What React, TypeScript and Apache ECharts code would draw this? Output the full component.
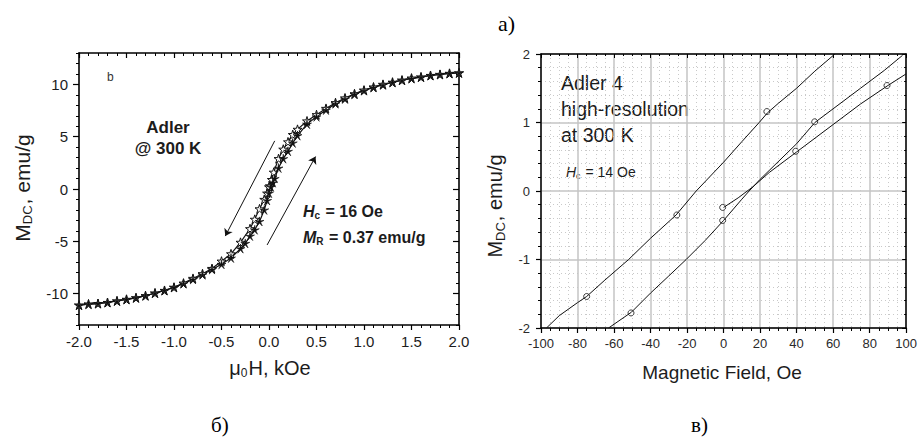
import React, { useEffect, useRef } from "react";
import * as echarts from "echarts";

// ---------- Left panel (б): hysteresis loop ----------
const fieldDown = [2.0, 1.9, 1.8, 1.7, 1.6, 1.5, 1.4, 1.3, 1.2, 1.1, 1.0, 0.9, 0.8, 0.7, 0.6, 0.5, 0.4, 0.3, 0.25, 0.2, 0.15, 0.1, 0.05, 0.03, 0.01, 0.0, -0.02, -0.05, -0.1, -0.15, -0.2, -0.3, -0.4, -0.5, -0.6, -0.7, -0.8, -0.9, -1.0, -1.1, -1.2, -1.3, -1.4, -1.5, -1.6, -1.7, -1.8, -1.9, -2.0];
const magDown = [11.1, 11.05, 10.95, 10.85, 10.7, 10.6, 10.4, 10.2, 10.0, 9.75, 9.45, 9.1, 8.7, 8.25, 7.7, 7.1, 6.5, 5.7, 5.2, 4.5, 3.8, 2.9, 1.6, 0.9, 0.3, 0.2, -0.4, -1.0, -1.9, -2.9, -3.8, -5.1, -6.2, -6.9, -7.6, -8.1, -8.55, -9.0, -9.4, -9.7, -9.95, -10.2, -10.4, -10.55, -10.7, -10.85, -10.95, -11.0, -11.1];
const fieldUp = [-2.0, -1.9, -1.8, -1.7, -1.6, -1.5, -1.4, -1.3, -1.2, -1.1, -1.0, -0.9, -0.8, -0.7, -0.6, -0.5, -0.4, -0.3, -0.25, -0.2, -0.15, -0.1, -0.05, -0.02, 0.0, 0.02, 0.04, 0.06, 0.1, 0.15, 0.2, 0.25, 0.3, 0.4, 0.5, 0.6, 0.7, 0.8, 0.9, 1.0, 1.1, 1.2, 1.3, 1.4, 1.5, 1.6, 1.7, 1.8, 1.9, 2.0];
const magUp = [-11.1, -11.0, -10.95, -10.85, -10.7, -10.55, -10.4, -10.2, -9.95, -9.7, -9.4, -9.05, -8.65, -8.2, -7.7, -7.2, -6.6, -5.7, -5.2, -4.5, -3.9, -3.1, -2.0, -1.1, -0.4, 0.2, 0.6, 1.0, 2.0, 2.9, 3.6, 4.4, 5.1, 6.2, 6.9, 7.55, 8.15, 8.6, 9.05, 9.4, 9.7, 9.95, 10.2, 10.4, 10.55, 10.7, 10.85, 10.95, 11.05, 11.1];
const leftMajorY = [-10, -5, 0, 5, 10];
// arrows: [startField, startMag, endField, endMag]
const arrowDown = [0.06, 4.6, -0.46, -4.5];
const arrowUp = [-0.02, -5.35, 0.49, 3.1];

// ---------- Right panel (в): high-resolution loop ----------
const line1Field = [-97, -90, -80, -75, -65, -52, -40, -26, -15, 0, 10, 19.5, 24, 30, 40, 50, 61];
const line1Mag = [-2.0, -1.82, -1.63, -1.54, -1.3, -1.0, -0.69, -0.35, 0, 0.42, 0.72, 1.0, 1.14, 1.28, 1.5, 1.75, 2.0];
const line2Field = [-63, -50.5, -40, -30, -20.5, -10, 0, 10, 14, 20, 25, 40, 50, 60, 75, 88, 98];
const line2Mag = [-2.0, -1.77, -1.49, -1.24, -1.0, -0.72, -0.43, -0.12, 0, 0.17, 0.3, 0.69, 1.0, 1.2, 1.5, 1.76, 1.98];
const line3Field = [0, 8, 16, 25, 40, 60, 75, 90, 100];
const line3Mag = [-0.24, -0.1, 0.06, 0.27, 0.57, 0.97, 1.27, 1.54, 1.71];
const circleField = [-75, -25.6, 23.7, -50.7, -0.5, 49.9, -0.5, 39.5, 89.5];
const circleMag = [-1.54, -0.35, 1.16, -1.78, -0.43, 1.01, -0.24, 0.58, 1.54];

const zip = (a: number[], b: number[]) => a.map((v, i) => [v, b[i]]);

const STAR_OPEN =
  "path://M0,-10L2.245,-3.09L9.51,-3.09L3.633,1.18L5.88,8.09L0,3.82L-5.88,8.09L-3.633,1.18L-9.51,-3.09L-2.245,-3.09Z";
const STAR_THIN =
  "path://M0,-10L1.47,-2.02L9.51,-3.09L2.38,0.77L5.88,8.09L0,2.5L-5.88,8.09L-2.38,0.77L-9.51,-3.09L-1.47,-2.02Z";

const SANS = "'Liberation Sans', Arial, sans-serif";
const SERIF = "'Liberation Serif', 'Times New Roman', serif";
const INK = "#1c1c1c";

export default function App() {
  const ref = useRef<HTMLDivElement>(null);

  useEffect(() => {
    if (!ref.current) return;
    const chart = echarts.init(ref.current, undefined, { renderer: "svg" });

    const border = { show: true, onZero: false, lineStyle: { color: "#000", width: 1.6 } };
    const noLine = { show: false, onZero: false };
    const dotted = { show: true, lineStyle: { color: "#c9c9c9", width: 1, type: [1, 3] } };

    const option: any = {
      animation: false,
      backgroundColor: "#fff",
      grid: [
        { left: 79, top: 53, width: 380, height: 272, containLabel: false },
        { left: 541, top: 54, width: 367, height: 274, containLabel: false },
      ],
      xAxis: [
        {
          gridIndex: 0, type: "value", position: "bottom", min: -2, max: 2, interval: 0.5,
          axisLine: border,
          axisTick: { show: true, inside: false, length: 5, lineStyle: { color: "#000", width: 1.2 } },
          minorTick: { show: true, splitNumber: 5, length: 3, lineStyle: { color: "#000", width: 1 } },
          axisLabel: { fontSize: 15, color: INK, fontFamily: SANS, margin: 9, formatter: (v: number) => v.toFixed(1) },
          splitLine: { show: false },
        },
        {
          gridIndex: 0, type: "value", position: "top", min: -2, max: 2, interval: 0.5,
          axisLine: border,
          axisTick: { show: true, inside: true, length: 5, lineStyle: { color: "#000", width: 1.2 } },
          minorTick: { show: true, splitNumber: 5, length: 3, lineStyle: { color: "#000", width: 1 } },
          axisLabel: { show: false },
          splitLine: { show: false },
        },
        {
          gridIndex: 1, type: "value", position: "bottom", min: -100, max: 100, interval: 20,
          axisLine: { show: true, onZero: false, lineStyle: { color: "#000", width: 1.5 } },
          axisTick: { show: true, inside: false, length: 5, lineStyle: { color: "#000", width: 1.2 } },
          minorTick: { show: true, splitNumber: 4, length: 3, lineStyle: { color: "#000", width: 1 } },
          axisLabel: { fontSize: 13, color: "#2a2a2a", fontFamily: SANS, margin: 9 },
          splitLine: { show: true, lineStyle: { color: "#c4c4c4", width: 1.5 } },
          minorSplitLine: dotted,
        },
        {
          gridIndex: 1, type: "value", position: "top", min: -100, max: 100, interval: 20,
          axisLine: { show: true, onZero: false, lineStyle: { color: "#000", width: 1.5 } },
          axisTick: { show: true, inside: true, length: 4, lineStyle: { color: "#000", width: 1 } },
          minorTick: { show: true, splitNumber: 4, length: 2, lineStyle: { color: "#000", width: 1 } },
          axisLabel: { show: false },
          splitLine: { show: false },
        },
      ],
      yAxis: [
        {
          gridIndex: 0, type: "value", position: "left", min: -13, max: 13, interval: 1,
          axisLine: border,
          axisTick: { show: true, inside: false, length: 3, lineStyle: { color: "#000", width: 1 } },
          axisLabel: {
            fontSize: 15, color: INK, fontFamily: SANS, margin: 11,
            formatter: (v: number) => (leftMajorY.indexOf(v) >= 0 ? String(v) : ""),
          },
          splitLine: { show: false },
        },
        {
          gridIndex: 0, type: "value", position: "left", min: -13, max: 13,
          axisLine: noLine,
          axisTick: { show: true, inside: false, length: 6, customValues: leftMajorY, lineStyle: { color: "#000", width: 1.2 } },
          axisLabel: { show: false },
          splitLine: { show: false },
        },
        {
          gridIndex: 0, type: "value", position: "right", min: -13, max: 13, interval: 1,
          axisLine: border,
          axisTick: { show: true, inside: true, length: 3, lineStyle: { color: "#000", width: 1 } },
          axisLabel: { show: false },
          splitLine: { show: false },
        },
        {
          gridIndex: 0, type: "value", position: "right", min: -13, max: 13,
          axisLine: noLine,
          axisTick: { show: true, inside: true, length: 6, customValues: leftMajorY, lineStyle: { color: "#000", width: 1.2 } },
          axisLabel: { show: false },
          splitLine: { show: false },
        },
        {
          gridIndex: 1, type: "value", position: "left", min: -2, max: 2, interval: 1,
          axisLine: { show: true, onZero: false, lineStyle: { color: "#000", width: 1.5 } },
          axisTick: { show: true, inside: false, length: 5, lineStyle: { color: "#000", width: 1.2 } },
          minorTick: { show: true, splitNumber: 5, length: 3, lineStyle: { color: "#000", width: 1 } },
          axisLabel: { fontSize: 13, color: "#2a2a2a", fontFamily: SANS, margin: 11 },
          splitLine: { show: true, lineStyle: { color: "#c4c4c4", width: 1.5 } },
          minorSplitLine: dotted,
        },
        {
          gridIndex: 1, type: "value", position: "right", min: -2, max: 2, interval: 1,
          axisLine: { show: true, onZero: false, lineStyle: { color: "#000", width: 1.5 } },
          axisTick: { show: true, inside: true, length: 4, lineStyle: { color: "#000", width: 1 } },
          minorTick: { show: true, splitNumber: 5, length: 2, lineStyle: { color: "#000", width: 1 } },
          axisLabel: { show: false },
          splitLine: { show: false },
        },
      ],
      series: [
        {
          type: "line", xAxisIndex: 0, yAxisIndex: 0, silent: true,
          data: zip(fieldDown, magDown),
          symbol: STAR_OPEN, symbolSize: 9,
          itemStyle: { color: "#fff", borderColor: "#111", borderWidth: 1 },
          lineStyle: { color: "#111", width: 1.2 },
          markLine: {
            silent: true, symbol: ["none", "arrow"], symbolSize: 7, animation: false,
            label: { show: false },
            lineStyle: { color: "#111", width: 1, type: "solid" },
            data: [
              [{ coord: [arrowDown[0], arrowDown[1]] }, { coord: [arrowDown[2], arrowDown[3]] }],
              [{ coord: [arrowUp[0], arrowUp[1]] }, { coord: [arrowUp[2], arrowUp[3]] }],
            ],
          },
        },
        {
          type: "line", xAxisIndex: 0, yAxisIndex: 0, silent: true,
          data: zip(fieldUp, magUp),
          symbol: STAR_THIN, symbolSize: 9,
          itemStyle: { color: "#111", borderColor: "#111", borderWidth: 0.6 },
          lineStyle: { color: "#111", width: 1.2 },
        },
        {
          type: "line", xAxisIndex: 2, yAxisIndex: 4, silent: true, showSymbol: false, symbol: "none",
          data: zip(line1Field, line1Mag), lineStyle: { color: "#111", width: 1 },
        },
        {
          type: "line", xAxisIndex: 2, yAxisIndex: 4, silent: true, showSymbol: false, symbol: "none",
          data: zip(line2Field, line2Mag), lineStyle: { color: "#111", width: 1 },
        },
        {
          type: "line", xAxisIndex: 2, yAxisIndex: 4, silent: true, showSymbol: false, symbol: "none",
          data: zip(line3Field, line3Mag), lineStyle: { color: "#111", width: 1 },
        },
        {
          type: "scatter", xAxisIndex: 2, yAxisIndex: 4, silent: true,
          data: zip(circleField, circleMag), symbol: "circle", symbolSize: 6,
          itemStyle: { color: "#fff", borderColor: "#111", borderWidth: 1 },
        },
      ],
      graphic: [
        // left panel titles
        {
          type: "text", x: 22, y: 188, rotation: Math.PI / 2,
          style: {
            text: "{a|M}{s|DC}{a|, emu/g}", align: "center", verticalAlign: "middle",
            rich: {
              a: { fontSize: 21, fontFamily: SANS, fill: INK },
              s: { fontSize: 13, fontFamily: SANS, fill: INK, padding: [10, 1, 0, 0] },
            },
          },
        },
        {
          type: "text", x: 270, y: 368,
          style: {
            text: "{a|μ}{s|0}{a|H, kOe}", align: "center", verticalAlign: "middle",
            rich: {
              a: { fontSize: 20, fontFamily: SANS, fill: INK },
              s: { fontSize: 12, fontFamily: SANS, fill: INK, padding: [10, 1, 0, 0] },
            },
          },
        },
        { type: "text", x: 107, y: 77, style: { text: "b", fontSize: 12, fontFamily: SANS, fill: "#333", verticalAlign: "middle" } },
        { type: "text", x: 168, y: 127, style: { text: "Adler", fontSize: 17, fontWeight: "bold", fontFamily: SANS, fill: INK, align: "center", verticalAlign: "middle" } },
        { type: "text", x: 168, y: 148, style: { text: "@ 300 K", fontSize: 17, fontWeight: "bold", fontFamily: SANS, fill: INK, align: "center", verticalAlign: "middle" } },
        {
          type: "text", x: 303, y: 211,
          style: {
            text: "{i|H}{s|c}{b| = 16 Oe}", verticalAlign: "middle",
            rich: {
              i: { fontSize: 16, fontWeight: "bold", fontStyle: "italic", fontFamily: SANS, fill: INK },
              s: { fontSize: 10, fontWeight: "bold", fontFamily: SANS, fill: INK, padding: [9, 1, 0, 0] },
              b: { fontSize: 16, fontWeight: "bold", fontFamily: SANS, fill: INK },
            },
          },
        },
        {
          type: "text", x: 303, y: 237,
          style: {
            text: "{i|M}{s|R}{b| = 0.37 emu/g}", verticalAlign: "middle",
            rich: {
              i: { fontSize: 16, fontWeight: "bold", fontStyle: "italic", fontFamily: SANS, fill: INK },
              s: { fontSize: 10, fontWeight: "bold", fontFamily: SANS, fill: INK, padding: [9, 1, 0, 0] },
              b: { fontSize: 16, fontWeight: "bold", fontFamily: SANS, fill: INK },
            },
          },
        },
        // right panel titles
        {
          type: "text", x: 495, y: 206, rotation: Math.PI / 2,
          style: {
            text: "{a|M}{s|DC}{a|, emu/g}", align: "center", verticalAlign: "middle",
            rich: {
              a: { fontSize: 20, fontFamily: SANS, fill: INK },
              s: { fontSize: 13, fontFamily: SANS, fill: INK, padding: [10, 1, 0, 0] },
            },
          },
        },
        { type: "text", x: 722, y: 372, style: { text: "Magnetic Field, Oe", fontSize: 19, fontFamily: SANS, fill: INK, align: "center", verticalAlign: "middle" } },
        { type: "text", x: 561, y: 83, style: { text: "Adler 4", fontSize: 19.5, fontFamily: SANS, fill: INK, verticalAlign: "middle" } },
        { type: "text", x: 561, y: 109, style: { text: "high-resolution", fontSize: 19.5, fontFamily: SANS, fill: INK, verticalAlign: "middle" } },
        { type: "text", x: 561, y: 135, style: { text: "at 300 K", fontSize: 19.5, fontFamily: SANS, fill: INK, verticalAlign: "middle" } },
        {
          type: "text", x: 566, y: 172,
          style: {
            text: "{i|H}{s|c}{b| = 14 Oe}", verticalAlign: "middle",
            rich: {
              i: { fontSize: 14, fontStyle: "italic", fontFamily: SANS, fill: INK },
              s: { fontSize: 9, fontFamily: SANS, fill: INK, padding: [8, 1, 0, 0] },
              b: { fontSize: 14, fontFamily: SANS, fill: INK },
            },
          },
        },
        // panel letters
        { type: "text", x: 498, y: 23, style: { text: "а)", fontSize: 22, fontFamily: SERIF, fill: "#000", verticalAlign: "middle" } },
        { type: "text", x: 211, y: 425, style: { text: "б)", fontSize: 21, fontFamily: SERIF, fill: "#000", verticalAlign: "middle" } },
        { type: "text", x: 691, y: 425, style: { text: "в)", fontSize: 21, fontFamily: SERIF, fill: "#000", verticalAlign: "middle" } },
      ],
    };

    chart.setOption(option);
    return () => chart.dispose();
  }, []);

  return (
    <div
      ref={ref}
      style={{ position: "fixed", left: 0, top: 0, width: 920, height: 438, background: "#fff" }}
    />
  );
}
